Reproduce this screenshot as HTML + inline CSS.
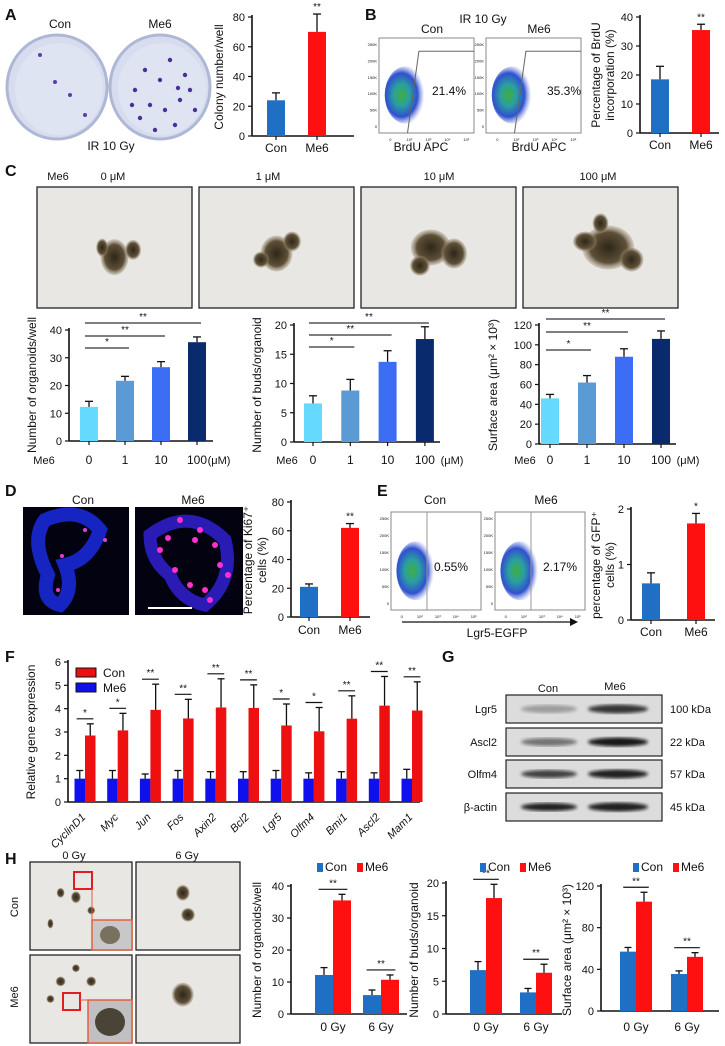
<!DOCTYPE html>
<html><head><meta charset="utf-8">
<style>
html,body{margin:0;padding:0;background:#fff;}
svg{display:block;font-family:"Liberation Sans",Arial,sans-serif;}
</style></head>
<body>
<svg id="fig" width="725" height="1046" viewBox="0 0 725 1046" xmlns="http://www.w3.org/2000/svg">
<defs>
<radialGradient id="flowG" cx="0.4" cy="0.5" r="0.55">
<stop offset="0" stop-color="#3fae3f"/><stop offset="0.35" stop-color="#2aa0a0"/><stop offset="0.7" stop-color="#3050d0"/><stop offset="1" stop-color="#8090e0" stop-opacity="0"/>
</radialGradient>
<radialGradient id="blob" cx="0.5" cy="0.5" r="0.5">
<stop offset="0" stop-color="#2e2618"/><stop offset="0.7" stop-color="#5e5038"/><stop offset="1" stop-color="#9a8c70" stop-opacity="0.3"/>
</radialGradient>
<filter id="blur1"><feGaussianBlur stdDeviation="1.6"/></filter>
</defs>
</svg>
<script>
// ---------- data ----------
const aCats=['Con','Me6'];
const aVals=[24,70];
const aErrs=[29,82];
const bCats=['Con','Me6'];
const bVals=[18.5,35.5];
const bErrs=[23,37.5];
const cCats=['0','1','10','100'];
const c1Vals=[12.3,21.7,26.6,35.6];
const c1Errs=[14.3,23.3,28.6,37.5];
const c2Vals=[6.6,8.8,13.7,17.6];
const c2Errs=[7.9,10.7,15.6,19.7];
const c3Vals=[46,62,88,106];
const c3Errs=[50,69,96,114];
const cSig=['*','**','**'];
const dCats=['Con','Me6'];
const dVals=[21,62];
const dErrs=[23,65];
const eCats=['Con','Me6'];
const eVals=[0.66,1.74];
const eErrs=[0.85,1.92];
const fGenes=['CyclinD1','Myc','Jun','Fos','Axin2','Bcl2','Lgr5','Olfm4','Bmi1','Ascl2','Mam1'];
const fCon=[2.85,3.07,3.95,3.58,4.05,4.03,3.28,3.03,3.57,4.13,3.92];
const fConErr=[3.35,3.8,5.05,4.4,5.28,5.02,4.2,4.05,4.55,5.38,5.15];
const fMe6=[1,1,1,1,1,1,1,1,1,1,1];
const fMe6Err=[1.35,1.35,1.2,1.35,1.3,1.3,1.35,1.25,1.3,1.25,1.4];
const fSig=['*','*','**','**','**','**','*','*','**','**','**'];
const hCats=['0 Gy','6 Gy'];
const h1Con=[12.2,5.9], h1ConErr=[14.5,7.5], h1Me6=[35.5,10.7], h1Me6Err=[37.4,12.2];
const h2Con=[6.7,3.3], h2ConErr=[8.0,3.9], h2Me6=[17.7,6.3], h2Me6Err=[19.8,7.6];
const h3Con=[57,35.5], h3ConErr=[61,38.5], h3Me6=[105,52], h3Me6Err=[114,56];
const aTicks=[0,20,40,60,80], bTicks=[0,10,20,30,40];
const c1Ticks=[0,10,20,30,40], c2Ticks=[0,5,10,15,20], c3Ticks=[0,20,40,60,80,100,120];
const dTicks=[0,20,40,60,80], eTicks=[0,1,2], fTicks=[0,1,2,3,4,5,6];
const h1Ticks=[0,10,20,30,40], h2Ticks=[0,5,10,15,20], h3Ticks=[0,40,80,120];

// ---------- helpers ----------
const NS='http://www.w3.org/2000/svg';
const svg=document.getElementById('fig');
function mk(tag,a,p,name){
  const e=document.createElementNS(NS,tag);
  for(const k in a) e.setAttribute(k,a[k]);
  
  
  (p||svg).appendChild(e);return e;
}
function T(x,y,s,size,p,name,anchor,extra){
  const e=mk('text',Object.assign({x:x,y:y,'font-size':size,'text-anchor':anchor||'middle',fill:'#111'},extra||{}),p,name);
  e.textContent=s;return e;
}
function grp(name){return mk('g',{},svg,name);}
function yScale(y0,yTop,max){return v=>y0-v/max*(y0-yTop);}
function axes(g,x0,y0,yTop,xEnd,ticks,max,fmt){
  const y=yScale(y0,yTop,max);
  mk('line',{x1:x0,y1:yTop-2,x2:x0,y2:y0,stroke:'#111','stroke-width':1.6},g,'y-axis');
  mk('line',{x1:x0,y1:y0,x2:xEnd,y2:y0,stroke:'#111','stroke-width':1.6},g,'x-axis');
  ticks.forEach(t=>{
    mk('line',{x1:x0-4,y1:y(t),x2:x0,y2:y(t),stroke:'#111','stroke-width':1.2},g,'y-tick');
    T(x0-7,y(t)+4,fmt?fmt(t):String(t),11,g,'y-tick-label','end');
  });
  return y;
}
function errBar(g,cx,yv,ye,w){
  mk('line',{x1:cx,y1:yv,x2:cx,y2:ye,stroke:'#111','stroke-width':1.3},g,'error-bar');
  mk('line',{x1:cx-w,y1:ye,x2:cx+w,y2:ye,stroke:'#111','stroke-width':1.3},g,'error-cap');
}
function yTitle(g,x,yc,lines,size){
  lines.forEach((s,i)=>{
    T(x+i*(size+2),yc,s,size,g,'y-axis-title','middle',{transform:`rotate(-90 ${x+i*(size+2)} ${yc})`});
  });
}
function simpleChart(o){
  const g=grp(o.name);
  const y=axes(g,o.x0,o.y0,o.yTop,o.xEnd,o.ticks,o.max,o.fmt);
  o.cats.forEach((c,i)=>{
    const cx=o.cx0+i*o.step;
    const b=mk('rect',{x:cx-o.bw/2,y:y(o.vals[i]),width:o.bw,height:o.y0-y(o.vals[i]),fill:o.colors[i]},g,'bar-'+c.toLowerCase());
    errBar(g,cx,y(o.vals[i]),y(o.errs[i]),4);
    mk('line',{x1:cx,y1:o.y0,x2:cx,y2:o.y0+4,stroke:'#111','stroke-width':1.2},g,'x-tick');
    T(cx,o.labelY,c,12,g,'x-tick-label');
  });
  if(o.sig){const i=o.cats.length-1;T(o.cx0+i*o.step,y(o.errs[i])-4,o.sig,10,g,'significance-mark');}
  yTitle(g,o.tx,o.tyc,o.title,12);
  return {g:g,y:y};
}
function doseChart(o){
  const r=simpleChart(Object.assign({},o,{cats:cCats,labelY:o.labelY}));
  const g=r.g,y=r.y;
  T(o.me6x,o.labelY,'Me6',11,g,'x-prefix-label');
  T(o.unitx,o.labelY,'(μM)',11,g,'x-unit-label');
  cSig.forEach((s,k)=>{
    const i=k+1;const ly=o.sigY[k];
    mk('line',{x1:o.cx0-4,y1:ly,x2:o.cx0+i*o.step+4,y2:ly,stroke:'#333','stroke-width':1.2},g,'significance-line');
    T((o.cx0-4+o.cx0+i*o.step+4)/2,ly-3,s,10,g,'significance-mark');
  });
}
function groupChart(o){
  const g=grp(o.name);
  const y=axes(g,o.x0,o.y0,o.yTop,o.xEnd,o.ticks,o.max);
  o.cats.forEach((c,i)=>{
    const cx=o.cx0+i*o.step;
    const xb=cx-o.bw, xr=cx;
    mk('rect',{x:xb,y:y(o.s1[i]),width:o.bw,height:o.y0-y(o.s1[i]),fill:o.c1},g,'bar-con-'+i);
    errBar(g,xb+o.bw/2,y(o.s1[i]),y(o.e1[i]),3.5);
    mk('rect',{x:xr,y:y(o.s2[i]),width:o.bw,height:o.y0-y(o.s2[i]),fill:o.c2},g,'bar-me6-'+i);
    errBar(g,xr+o.bw/2,y(o.s2[i]),y(o.e2[i]),3.5);
    const top=Math.min(y(o.e1[i]),y(o.e2[i]))-5;
    mk('line',{x1:cx-o.bw*0.8,y1:top,x2:cx+o.bw*0.8,y2:top,stroke:'#111','stroke-width':1.2},g,'significance-line');
    T(cx,top-3,o.sig?o.sig[i]:'**',10,g,'significance-mark');
    T(cx,o.labelY,c,12,g,'x-tick-label',o.rot?'end':'middle',o.rot?{transform:`rotate(-45 ${cx+4} ${o.labelY})`,'font-style':'italic','font-size':11}:{});
  });
  yTitle(g,o.tx,o.tyc,o.title,12);
  return g;
}
function hLegend(x,y){
  const g=grp('legend');
  mk('rect',{x:x,y:y-8,width:6,height:9,fill:'#1f6fc5'},g,'legend-swatch-con');
  T(x+8,y,'Con',12,g,'legend-entry-con','start');
  mk('rect',{x:x+40,y:y-8,width:6,height:9,fill:'#ff1010'},g,'legend-swatch-me6');
  T(x+48,y,'Me6',12,g,'legend-entry-me6','start');
}
function photo(x,y,w,h,name,blobs){
  const g=grp(name);
  mk('rect',{x:x,y:y,width:w,height:h,fill:'#e9e7e4',stroke:'#222','stroke-width':1.3},g,'photo-frame');
  blobs.forEach(b=>mk('ellipse',{cx:x+b[0]*w,cy:y+b[1]*h,rx:b[2],ry:b[3],fill:'url(#blob)'},g,'organoid'));
  return g;
}
function flow(x,y,w,h,name,slant){
  const g=grp(name);
  mk('rect',{x:x,y:y,width:w,height:h,fill:'#fff',stroke:'#888','stroke-width':1},g,'flow-plot-frame');
  mk('ellipse',{cx:x+w*0.28,cy:y+h*0.6,rx:w*0.22,ry:h*0.3,fill:'url(#flowG)'},g,'cell-population');
  ['250K','200K','150K','100K','50K','0'].forEach((s,i)=>T(x-2,y+8+i*(h-8)/5.3,s,4,g,'flow-y-tick','end'));
  ['0','10²','10³','10⁴','10⁵'].forEach((s,i)=>T(x+w*0.12+i*w*0.2,y+h+8,s,4,g,'flow-x-tick'));
  if(slant){
    mk('polyline',{points:`${x+w*0.3},${y+h} ${x+w*0.42},${y+h*0.14} ${x+w},${y+h*0.14}`,fill:'none',stroke:'#666','stroke-width':1},g,'gate-line');
  }else{
    mk('line',{x1:x+w*0.4,y1:y,x2:x+w*0.4,y2:y+h,stroke:'#999','stroke-width':1},g,'gate-line');
  }
  return g;
}

// ---------- Panel A ----------
T(5,20,'A',16,svg,'panel-label-a','start',{'font-weight':'bold'});
T(60,28,'Con',12,svg,'dish-label-con');T(160,28,'Me6',12,svg,'dish-label-me6');
(function(){
  const g=grp('colony-dishes');
  [[57,87,'con'],[160,87,'me6']].forEach(d=>{
    mk('ellipse',{cx:d[0],cy:d[1],rx:50,ry:52,fill:'#d7ddef',stroke:'#aeb8d6','stroke-width':3},g,'dish-'+d[2]);
    mk('ellipse',{cx:d[0]+2,cy:d[1]+2,rx:44,ry:46,fill:'#dfe4f3'},g,'dish-inner');
  });
  [[40,55],[55,82],[85,115],[70,95]].forEach(p=>mk('circle',{cx:p[0],cy:p[1],r:2,fill:'#5a3fa8'},g,'colony'));
  [[135,90],[150,105],[165,110],[180,100],[190,90],[140,118],[175,125],[160,80],[185,75],[145,70],[170,60],[155,130],[195,110],[132,105],[178,88]].forEach(p=>mk('circle',{cx:p[0],cy:p[1],r:2.2,fill:'#4a2f9a'},g,'colony'));
})();
T(111,150,'IR  10 Gy',12,svg,'ir-label-a');
simpleChart({name:'chart-a-colony',cats:aCats,vals:aVals,errs:aErrs,colors:['#1f6fc5','#ff1010'],x0:252,y0:136,yTop:17,xEnd:354,ticks:aTicks,max:80,cx0:276,step:41,bw:18,labelY:152,sig:'**',tx:223,tyc:77,title:['Colony number/well']});

// ---------- Panel B ----------
T(365,20,'B',16,svg,'panel-label-b','start',{'font-weight':'bold'});
T(483,23,'IR  10 Gy',12,svg,'ir-label-b');
T(432,33,'Con',12,svg,'flow-label-con');T(539,33,'Me6',12,svg,'flow-label-me6');
flow(379,38,95,95,'flow-plot-b-con',true);flow(486,38,95,95,'flow-plot-b-me6',true);
T(449,95,'21.4%',12,svg,'flow-percent-con');T(564,95,'35.3%',12,svg,'flow-percent-me6');
T(421,151,'BrdU APC',12,svg,'flow-x-title');T(539,151,'BrdU APC',12,svg,'flow-x-title');
simpleChart({name:'chart-b-brdu',cats:bCats,vals:bVals,errs:bErrs,colors:['#1f6fc5','#ff1010'],x0:640,y0:133,yTop:17,xEnd:719,ticks:bTicks,max:40,cx0:660,step:41,bw:18,labelY:149,sig:'**',tx:600,tyc:75,title:['Percentage of BrdU','incorporation (%)']});

// ---------- Panel C ----------
T(5,176,'C',16,svg,'panel-label-c','start',{'font-weight':'bold'});
T(58,180,'Me6',11,svg,'photo-label-me6');
[['0 μM',113],['1 μM',268],['10 μM',439],['100 μM',598]].forEach(a=>T(a[1],180,a[0],11,svg,'dose-label'));
photo(37,187,155,121,'photo-0um',[[0.5,0.58,14,18],[0.62,0.52,8,10],[0.42,0.5,6,9]]);
photo(199,187,155,121,'photo-1um',[[0.5,0.55,16,18],[0.6,0.45,9,10],[0.4,0.6,8,8]]);
photo(361,187,155,121,'photo-10um',[[0.45,0.5,20,18],[0.6,0.55,13,15],[0.38,0.65,10,10]]);
photo(523,187,155,121,'photo-100um',[[0.55,0.5,26,22],[0.4,0.45,12,10],[0.7,0.6,12,12],[0.5,0.3,8,10]]);
doseChart({name:'chart-c-organoids',vals:c1Vals,errs:c1Errs,colors:['#66d9ff','#5b9bd5','#3b6ef5','#0a2a6e'],x0:69,y0:441,yTop:330,xEnd:213,ticks:c1Ticks,max:40,cx0:89,step:36,bw:18,labelY:464,me6x:44,unitx:219,sigY:[348,336,323],tx:36,tyc:385,title:['Number of organoids/well']});
doseChart({name:'chart-c-buds',vals:c2Vals,errs:c2Errs,colors:['#66d9ff','#5b9bd5','#3b6ef5','#0a2a6e'],x0:294,y0:442,yTop:325,xEnd:440,ticks:c2Ticks,max:20,cx0:313,step:37.3,bw:18,labelY:464,me6x:287,unitx:452,sigY:[347,335,323],tx:261,tyc:385,title:['Number of buds/organoid']});
doseChart({name:'chart-c-area',vals:c3Vals,errs:c3Errs,colors:['#66d9ff','#5b9bd5','#3b6ef5','#0a2a6e'],x0:539,y0:444,yTop:325,xEnd:676,ticks:c3Ticks,max:120,cx0:550,step:37,bw:18,labelY:464,me6x:525,unitx:688,sigY:[350,332,319],tx:497,tyc:385,title:['Surface area (μm² × 10³)']});

// ---------- Panel D ----------
T(5,496,'D',16,svg,'panel-label-d','start',{'font-weight':'bold'});
T(83,504,'Con',12,svg,'image-label-con');T(193,504,'Me6',12,svg,'image-label-me6');
(function(){
  const g=grp('fluorescence-images');
  mk('rect',{x:23,y:507,width:106,height:108,fill:'#020210'},g,'fluor-con');
  mk('rect',{x:135,y:507,width:108,height:108,fill:'#020210'},g,'fluor-me6');
  mk('path',{d:'M45 520 Q80 505 100 530 Q90 560 65 565 Q75 590 60 605 Q40 600 48 575 Q30 540 45 520 Z',fill:'none',stroke:'#1a2ae0','stroke-width':14,opacity:0.85},g,'organoid-con');
  mk('path',{d:'M150 535 Q190 505 225 540 Q235 580 205 605 Q180 600 170 575 Q150 560 150 535 Z',fill:'none',stroke:'#3020d0','stroke-width':13,opacity:0.85},g,'organoid-me6');
  [[180,520],[200,530],[215,545],[220,565],[205,590],[190,585],[175,570],[160,550],[168,538],[210,600],[195,540],[228,575]].forEach(p=>mk('circle',{cx:p[0],cy:p[1],r:3,fill:'#ff30d0'},g,'ki67-cell'));
  [[62,556],[85,530],[105,540],[58,590]].forEach(p=>mk('circle',{cx:p[0],cy:p[1],r:2,fill:'#e040d0'},g,'ki67-cell'));
  mk('line',{x1:148,y1:608,x2:192,y2:608,stroke:'#fff','stroke-width':2},g,'scale-bar');
})();
simpleChart({name:'chart-d-ki67',cats:dCats,vals:dVals,errs:dErrs,colors:['#1f6fc5','#ff1010'],x0:291,y0:617,yTop:502,xEnd:370,ticks:dTicks,max:80,cx0:309,step:41,bw:18,labelY:634,sig:'**',tx:252,tyc:560,title:['Percentage of Ki67⁺','cells (%)']});

// ---------- Panel E ----------
T(377,496,'E',16,svg,'panel-label-e','start',{'font-weight':'bold'});
T(435,504,'Con',12,svg,'flow-label-con');T(546,504,'Me6',12,svg,'flow-label-me6');
flow(391,512,90,98,'flow-plot-e-con',false);flow(495,512,90,98,'flow-plot-e-me6',false);
T(451,571,'0.55%',12,svg,'flow-percent-con');T(560,571,'2.17%',12,svg,'flow-percent-me6');
mk('line',{x1:402,y1:622,x2:572,y2:622,stroke:'#111','stroke-width':1.3},svg,'lgr5-axis-arrow');
mk('polygon',{points:'578,622 570,618 570,626',fill:'#111'},svg,'arrow-head');
T(497,637,'Lgr5-EGFP',12,svg,'flow-x-title');
simpleChart({name:'chart-e-gfp',cats:eCats,vals:eVals,errs:eErrs,colors:['#1f6fc5','#ff1010'],x0:631,y0:620,yTop:509,xEnd:715,ticks:eTicks,max:2,cx0:651,step:45,bw:18,labelY:636,sig:'*',tx:600,tyc:565,title:['percentage of GFP⁺','cells (%)']});

// ---------- Panel F ----------
T(5,662,'F',16,svg,'panel-label-f','start',{'font-weight':'bold'});
groupChart({name:'chart-f-expression',cats:fGenes,s1:fMe6,e1:fMe6Err,s2:fCon,e2:fConErr,c1:'#1010ee',c2:'#ee1010',sig:fSig,x0:68,y0:802,yTop:662,xEnd:420,ticks:fTicks,max:6,cx0:85,step:32.7,bw:10.5,labelY:815,rot:true,tx:35,tyc:732,title:['Relative gene expression']});
(function(){
  const g=grp('legend-f');
  mk('rect',{x:76,y:668,width:20,height:9,fill:'#ee1010',stroke:'#111'},g,'legend-swatch-con');
  T(103,677,'Con',12,g,'legend-entry-con','start');
  mk('rect',{x:76,y:683,width:20,height:9,fill:'#1010ee',stroke:'#111'},g,'legend-swatch-me6');
  T(103,692,'Me6',12,g,'legend-entry-me6','start');
})();

// ---------- Panel G ----------
T(442,662,'G',16,svg,'panel-label-g','start',{'font-weight':'bold'});
T(548,692,'Con',11,svg,'blot-label-con');T(615,690,'Me6',11,svg,'blot-label-me6');
(function(){
  const g=grp('western-blot');
  const rows=[['Lgr5','100 kDa',695,0.3,0.8],['Ascl2','22 kDa',728,0.5,0.95],['Olfm4','57 kDa',760,0.75,0.9],['β-actin','45 kDa',793,0.9,0.9]];
  rows.forEach(r=>{
    mk('rect',{x:506,y:r[2],width:156,height:28,fill:'#dcdcdc',stroke:'#222','stroke-width':1.2},g,'blot-row');
    mk('ellipse',{cx:549,cy:r[2]+14,rx:28,ry:4,fill:'#111',opacity:r[3],filter:'url(#blur1)'},g,'band-con');
    mk('ellipse',{cx:618,cy:r[2]+14,rx:30,ry:4.5,fill:'#111',opacity:r[4],filter:'url(#blur1)'},g,'band-me6');
    T(497,r[2]+18,r[0],11,g,'blot-protein-label','end');
    T(670,r[2]+18,r[1],11,g,'blot-kda-label','start');
  });
})();

// ---------- Panel H ----------
T(5,864,'H',16,svg,'panel-label-h','start',{'font-weight':'bold'});
T(74,859,'0 Gy',11,svg,'dose-label-0gy');T(187,859,'6 Gy',11,svg,'dose-label-6gy');
T(18,907,'Con',11,svg,'row-label-con','middle',{transform:'rotate(-90 18 907)'});
T(18,997,'Me6',11,svg,'row-label-me6','middle',{transform:'rotate(-90 18 997)'});
photo(30,862,102,88,'photo-con-0gy',[[0.3,0.35,4,5],[0.45,0.4,5,6],[0.6,0.55,4,4],[0.2,0.7,3,5]]);
photo(136,862,104,88,'photo-con-6gy',[[0.45,0.35,7,8],[0.5,0.6,7,7]]);
photo(30,955,102,88,'photo-me6-0gy',[[0.3,0.3,5,5],[0.45,0.15,4,4],[0.6,0.3,5,5],[0.2,0.5,4,4]]);
photo(136,955,104,88,'photo-me6-6gy',[[0.45,0.45,11,12]]);
(function(){
  const g=grp('zoom-insets');
  mk('rect',{x:74,y:872,width:18,height:17,fill:'none',stroke:'#e02020','stroke-width':2},g,'zoom-box');
  mk('rect',{x:92,y:920,width:40,height:30,fill:'#c8c8c8',stroke:'#e06040','stroke-width':1.5},g,'inset');
  mk('ellipse',{cx:110,cy:935,rx:10,ry:9,fill:'#7a7060'},g,'inset-organoid');
  mk('line',{x1:92,y1:889,x2:92,y2:920,stroke:'#e06040'},g,'zoom-line');
  mk('rect',{x:63,y:993,width:17,height:17,fill:'none',stroke:'#e02020','stroke-width':2},g,'zoom-box');
  mk('rect',{x:88,y:1000,width:44,height:43,fill:'#c0c0c0',stroke:'#e06040','stroke-width':1.5},g,'inset');
  mk('ellipse',{cx:110,cy:1022,rx:15,ry:14,fill:'#4a4436'},g,'inset-organoid');
  mk('line',{x1:80,y1:1000,x2:88,y2:1000,stroke:'#e06040'},g,'zoom-line');
})();
groupChart({name:'chart-h-organoids',cats:hCats,s1:h1Con,e1:h1ConErr,s2:h1Me6,e2:h1Me6Err,c1:'#1f6fc5',c2:'#ff1010',x0:291,y0:1014,yTop:886,xEnd:407,ticks:h1Ticks,max:40,cx0:333,step:48,bw:18,labelY:1031,tx:261,tyc:950,title:['Number of organoids/well']});
groupChart({name:'chart-h-buds',cats:hCats,s1:h2Con,e1:h2ConErr,s2:h2Me6,e2:h2Me6Err,c1:'#1f6fc5',c2:'#ff1010',x0:446,y0:1014,yTop:883,xEnd:562,ticks:h2Ticks,max:20,cx0:486,step:50,bw:16,labelY:1031,tx:418,tyc:950,title:['Number of buds/organoid']});
groupChart({name:'chart-h-area',cats:hCats,s1:h3Con,e1:h3ConErr,s2:h3Me6,e2:h3Me6Err,c1:'#1f6fc5',c2:'#ff1010',x0:601,y0:1011,yTop:886,xEnd:719,ticks:h3Ticks,max:120,cx0:636,step:51,bw:16,labelY:1031,tx:571,tyc:950,title:['Surface area (μm² × 10³)']});
hLegend(317,871);hLegend(480,871);hLegend(633,871);
</script>
</body></html>
